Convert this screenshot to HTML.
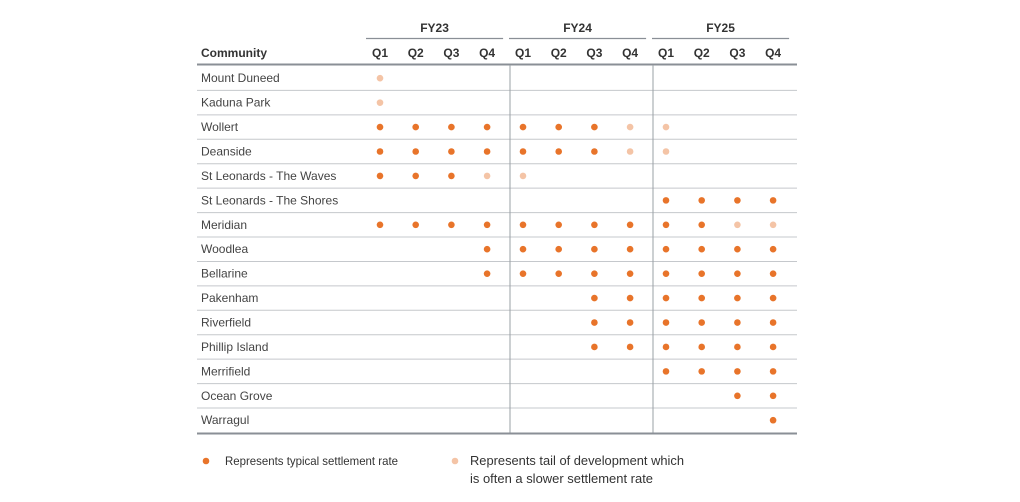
<!DOCTYPE html>
<html><head><meta charset="utf-8"><style>
body{margin:0;background:#fff;width:1020px;height:497px;overflow:hidden;font-family:"Liberation Sans",sans-serif}
svg text{font-family:"Liberation Sans",sans-serif}
</style></head><body>
<svg id="chart" width="1020" height="497" viewBox="0 0 1020 497"></svg>
<script>
const communities=["Mount Duneed","Kaduna Park","Wollert","Deanside","St Leonards - The Waves","St Leonards - The Shores","Meridian","Woodlea","Bellarine","Pakenham","Riverfield","Phillip Island","Merrifield","Ocean Grove","Warragul"];
const years=["FY23","FY24","FY25"];
const quarters=["Q1","Q2","Q3","Q4"];
// 0 none, 1 typical, 2 tail
const status=[
[2,0,0,0,0,0,0,0,0,0,0,0],
[2,0,0,0,0,0,0,0,0,0,0,0],
[1,1,1,1,1,1,1,2,2,0,0,0],
[1,1,1,1,1,1,1,2,2,0,0,0],
[1,1,1,2,2,0,0,0,0,0,0,0],
[0,0,0,0,0,0,0,0,1,1,1,1],
[1,1,1,1,1,1,1,1,1,1,2,2],
[0,0,0,1,1,1,1,1,1,1,1,1],
[0,0,0,1,1,1,1,1,1,1,1,1],
[0,0,0,0,0,0,1,1,1,1,1,1],
[0,0,0,0,0,0,1,1,1,1,1,1],
[0,0,0,0,0,0,1,1,1,1,1,1],
[0,0,0,0,0,0,0,0,1,1,1,1],
[0,0,0,0,0,0,0,0,0,0,1,1],
[0,0,0,0,0,0,0,0,0,0,0,1]];
const svg=document.getElementById('chart');
const NS='http://www.w3.org/2000/svg';
function mk(t,a,p){const e=document.createElementNS(NS,t);for(const k in a)e.setAttribute(k,a[k]);(p||svg).appendChild(e);return e;}
const L=197,R=797,top0=66,rh=24.43;
const colX=i=>380+Math.floor(i/4)*143+(i%4)*35.7;
const rowY=r=>top0+rh*r+rh/2;
const C1='#e8742a',C2='#f4c4a6';
years.forEach((y,g)=>{
 const x0=colX(g*4)-14,x1=colX(g*4+3)+16;
 const t=mk('text',{x:(x0+x1)/2,y:32,'text-anchor':'middle','font-size':12,'font-weight':'bold',fill:'#333'});t.textContent=y;
 
 
 mk('line',{x1:x0,x2:x1,y1:38.5,y2:38.5,stroke:'#8a8f96','stroke-width':1.2});
 quarters.forEach((q,k)=>{const qt=mk('text',{x:colX(g*4+k),y:57,'text-anchor':'middle','font-size':12,'font-weight':'bold',fill:'#333'});qt.textContent=q;
 
 });
});
const ch=mk('text',{x:201,y:57,'font-size':12,'font-weight':'bold',fill:'#333'});ch.textContent='Community';


mk('line',{x1:L,x2:R,y1:64.5,y2:64.5,stroke:'#8a8f96','stroke-width':2});
communities.forEach((c,r)=>{
 const t=mk('text',{x:201,y:rowY(r)+4,'font-size':12,fill:'#444'});t.textContent=c;
 
 
 if(r<communities.length-1) mk('line',{x1:L,x2:R,y1:top0+rh*(r+1),y2:top0+rh*(r+1),stroke:'#c5c8cc','stroke-width':1});
 status[r].forEach((s,i)=>{if(!s)return;
  const d=mk('circle',{cx:colX(i),cy:rowY(r),r:3.3,fill:s===1?C1:C2});
  
  });
});
const bottom=top0+rh*communities.length;
[510,653].forEach(x=>mk('line',{x1:x,x2:x,y1:65,y2:bottom,stroke:'#9aa0a6','stroke-width':1}));
mk('line',{x1:L,x2:R,y1:bottom+1,y2:bottom+1,stroke:'#8a8f96','stroke-width':2});
mk('circle',{cx:206,cy:461,r:3.3,fill:C1});
const l1=mk('text',{x:225,y:465,'font-size':12,fill:'#333',textLength:173,lengthAdjust:'spacingAndGlyphs'});l1.textContent='Represents typical settlement rate';


mk('circle',{cx:455,cy:461,r:3.3,fill:C2});
const l2=mk('text',{x:470,y:465,'font-size':13,fill:'#333',textLength:214,lengthAdjust:'spacingAndGlyphs'});l2.textContent='Represents tail of development which';


const l3=mk('text',{x:470,y:483,'font-size':13,fill:'#333',textLength:183,lengthAdjust:'spacingAndGlyphs'});l3.textContent='is often a slower settlement rate';


</script>
</body></html>
